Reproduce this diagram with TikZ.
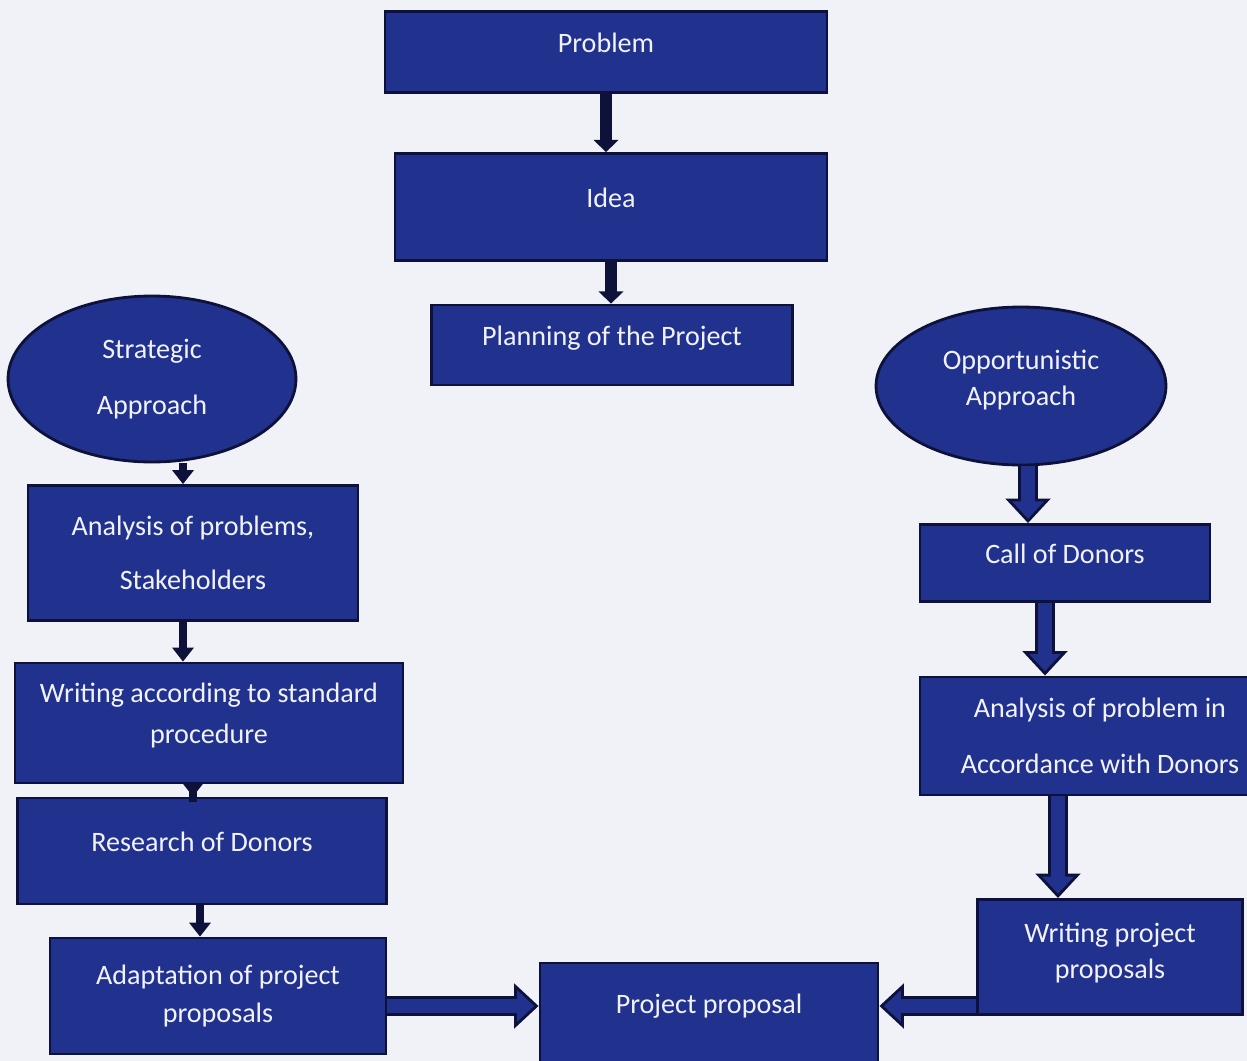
\documentclass[tikz,border=0pt]{standalone}
\usepackage{fontspec}
\setmainfont{Carlito}
\usetikzlibrary{shapes.geometric,arrows.meta,positioning}
\definecolor{boxblue}{RGB}{33,50,142}
\definecolor{boxline}{RGB}{14,18,58}
\definecolor{paper}{RGB}{241,242,247}

\begin{document}
\begin{tikzpicture}[x=0.02cm,y=-0.02cm,
    flowbox/.style={draw=boxline,line width=1.6pt,fill=boxblue,text=white!95!blue,align=center,
      inner sep=2pt,font=\fontsize{16}{27.5}\selectfont},
    oneline/.style={flowbox,text depth=11pt},
    oval/.style={flowbox,ellipse,inner sep=0pt},
    stem/.style={boxline,line width=4.5pt,-{Triangle[length=8pt,width=12pt]}},
    fatout/.style={boxline,line width=11pt,-{Triangle[length=14pt,width=25pt]}},
    fatin/.style={boxblue,line width=7.6pt,shorten >=2.5pt,-{Triangle[length=9.8pt,width=17.5pt]}}]
    \fill[paper] (0,0) rectangle (1247,1061);
    \useasboundingbox (0,0) rectangle (1247,1061);

    % middle column
    \node[oneline,minimum width=8.84cm,minimum height=1.62cm] (prob) at (606,52) {Problem};
    \node[oneline,minimum width=8.64cm,minimum height=2.14cm] (idea) at (611,207) {Idea};
    \node[oneline,minimum width=7.22cm,minimum height=1.6cm] (plan) at (612,345) {Planning of the Project};
    \node[oneline,minimum width=6.76cm,minimum height=2.0cm] (prop) at (709,1013) {Project proposal};

    % strategic column
    \node[oval,minimum width=5.76cm,minimum height=3.32cm] (strat) at (152,379) {Strategic\\[4pt]Approach};
    \node[flowbox,minimum width=6.6cm,minimum height=2.7cm] (anps) at (193,553) {Analysis of problems,\\[3pt]Stakeholders};
    \node[flowbox,minimum width=7.76cm,minimum height=2.4cm] (wstd) at (209,723) {Writing according to standard\\[-4pt]procedure\\[-16pt]\mbox{}};
    \node[oneline,minimum width=7.38cm,minimum height=2.12cm] (rsd) at (202,851) {Research of Donors};
    \node[flowbox,minimum width=6.72cm,minimum height=2.32cm] (adp) at (218,996) {Adaptation of project\\[-6pt]proposals};

    % opportunistic column
    \node[oval,minimum width=5.8cm,minimum height=3.16cm] (opp) at (1021,386) {Opportunistic\\[-7pt]Approach\\[-18pt]\mbox{}};
    \node[oneline,minimum width=5.8cm,minimum height=1.54cm] (call) at (1065,563) {Call of Donors};
    \node[flowbox,minimum width=7.2cm,minimum height=2.36cm] (anpd) at (1100,736) {Analysis of problem in\\[4pt]Accordance with Donors};
    \node[flowbox,minimum width=5.3cm,minimum height=2.3cm] (wpp) at (1110,957) {Writing project\\[-7pt]proposals\\[-20pt]\mbox{}};

    \coordinate (c1) at (183,0);
    \coordinate (c2) at (193,0);
    \coordinate (c3) at (200,0);
    \coordinate (c4) at (1028,0);
    \coordinate (c5) at (1045,0);
    \coordinate (c6) at (1058,0);
    \coordinate (r1) at (0,1006);

    \draw[stem,line width=7pt,-{Triangle[length=7pt,width=14pt]}] (prob.south) -- (prob.south |- idea.north);
    \draw[stem,line width=7pt,-{Triangle[length=7pt,width=14pt]}] (idea.south) -- (idea.south |- plan.north);
    \draw[stem] (strat.south -| c1) -- (anps.north -| c1);
    \draw[stem] (anps.south -| c1) -- (wstd.north -| c1);
    \draw[stem,shorten <=-10pt] (wstd.south -| c2) -- (rsd.north -| c2);
    \draw[stem] (rsd.south -| c3) -- (adp.north -| c3);

    \foreach \st in {fatout,fatin} {
      \draw[\st] (opp.south -| c4) -- (call.north -| c4);
      \draw[\st] (call.south -| c5) -- (anpd.north -| c5);
      \draw[\st] (anpd.south -| c6) -- (wpp.north -| c6);
      \draw[\st] (adp.east |- r1) -- (prop.west |- r1);
      \draw[\st] (wpp.west |- r1) -- (prop.east |- r1);
    }
\end{tikzpicture}
\end{document}
